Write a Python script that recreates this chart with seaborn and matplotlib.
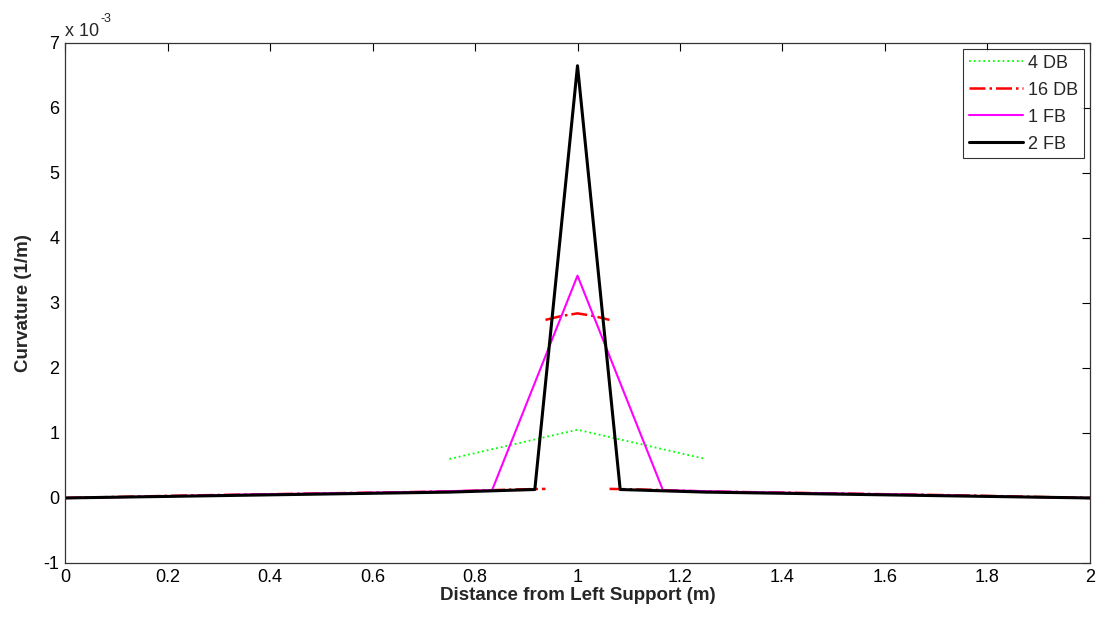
import seaborn as sns
import matplotlib.pyplot as plt
import pandas as pd
import numpy as np

# curvature values, in units of 1e-3 1/m
# 4 DB (green dotted)
x_4db = [0.75, 1.0, 1.25]
k_4db = [0.60, 1.05, 0.60]

# 16 DB (red dash-dot), three separate pieces
x_16db_a = [0.0, 0.25, 0.5, 0.75, 0.875, 0.9375]
k_16db_a = [0.0, 0.04, 0.07, 0.10, 0.13, 0.14]
x_16db_b = [0.9375, 0.96875, 1.0, 1.03125, 1.0625]
k_16db_b = [2.74, 2.80, 2.84, 2.80, 2.74]
x_16db_c = [1.0625, 1.125, 1.25, 1.5, 1.75, 2.0]
k_16db_c = [0.14, 0.13, 0.10, 0.07, 0.04, 0.0]

# 1 FB (magenta)
x_1fb = [0.0, 0.1667, 0.3333, 0.5, 0.6667, 0.8333, 1.0, 1.1667, 1.3333, 1.5, 1.6667, 1.8333, 2.0]
k_1fb = [0.0, 0.02, 0.05, 0.07, 0.09, 0.12, 3.42, 0.12, 0.09, 0.07, 0.05, 0.02, 0.0]

# 2 FB (black)
x_2fb = [0.0, 0.0833, 0.1667, 0.25, 0.3333, 0.4167, 0.5, 0.5833, 0.6667, 0.75, 0.8333, 0.9167,
         1.0, 1.0833, 1.1667, 1.25, 1.3333, 1.4167, 1.5, 1.5833, 1.6667, 1.75, 1.8333, 1.9167, 2.0]
k_2fb = [0.0, 0.01, 0.02, 0.03, 0.04, 0.05, 0.06, 0.07, 0.08, 0.09, 0.11, 0.13,
         6.65, 0.13, 0.11, 0.09, 0.08, 0.07, 0.06, 0.05, 0.04, 0.03, 0.02, 0.01, 0.0]

sns.set_style('white')
plt.rcParams['font.family'] = ['Liberation Sans', 'DejaVu Sans']
plt.rcParams['axes.unicode_minus'] = False

fig = plt.figure(figsize=(11.04, 6.22), dpi=100)
ax = fig.add_axes([0.0589, 0.0949, 0.9284, 0.836])

db4 = pd.DataFrame({'x': x_4db, 'k': k_4db})
db16 = pd.DataFrame({
    'x': x_16db_a + x_16db_b + x_16db_c,
    'k': k_16db_a + k_16db_b + k_16db_c,
    'seg': [0] * len(x_16db_a) + [1] * len(x_16db_b) + [2] * len(x_16db_c),
})
fb1 = pd.DataFrame({'x': x_1fb, 'k': k_1fb})
fb2 = pd.DataFrame({'x': x_2fb, 'k': k_2fb})

sns.lineplot(data=db4, x='x', y='k', ax=ax, color='#00ff00', linestyle=':',
             linewidth=1.3, label='4 DB')
sns.lineplot(data=db16, x='x', y='k', units='seg', estimator=None, sort=False, ax=ax,
             color='red', linestyle='-.', linewidth=1.8, label='16 DB')
sns.lineplot(data=fb1, x='x', y='k', ax=ax, color='magenta', linestyle='-',
             linewidth=1.5, label='1 FB')
sns.lineplot(data=fb2, x='x', y='k', ax=ax, color='black', linestyle='-',
             linewidth=2.2, label='2 FB')

ax.set_xlim(0, 2)
ax.set_ylim(-1, 7)
ax.set_xticks(np.arange(0, 2.01, 0.2))
ax.set_xticklabels(['0', '0.2', '0.4', '0.6', '0.8', '1', '1.2', '1.4', '1.6', '1.8', '2'])
ax.set_yticks(range(-1, 8))
ax.tick_params(direction='in', length=6, width=0.8, top=True, right=True,
               labelsize=13, pad=4, colors='black')
for s in ax.spines.values():
    s.set_color('#333333')
    s.set_linewidth(0.9)

ax.set_xlabel('Distance from Left Support (m)', fontsize=13.5, fontweight='bold', labelpad=1)
ax.set_ylabel('Curvature (1/m)', fontsize=13.5, fontweight='bold', labelpad=8)
ax.text(0.0, 1.006, 'x 10', transform=ax.transAxes, fontsize=13,
        ha='left', va='bottom')
ax.text(0.035, 1.035, '-3', transform=ax.transAxes, fontsize=9,
        ha='left', va='bottom')

# one legend entry per series
handles, labels = ax.get_legend_handles_labels()
seen = {}
for h, l in zip(handles, labels):
    seen.setdefault(l, h)
leg = ax.legend(list(seen.values()), list(seen.keys()), loc='upper right', fontsize=13,
                frameon=True, fancybox=False, edgecolor='black', handlelength=3.0,
                borderaxespad=0.35, labelspacing=0.55, handletextpad=0.3, borderpad=0.3)
leg.get_frame().set_linewidth(0.8)

fig.savefig('out.png', dpi=100)
